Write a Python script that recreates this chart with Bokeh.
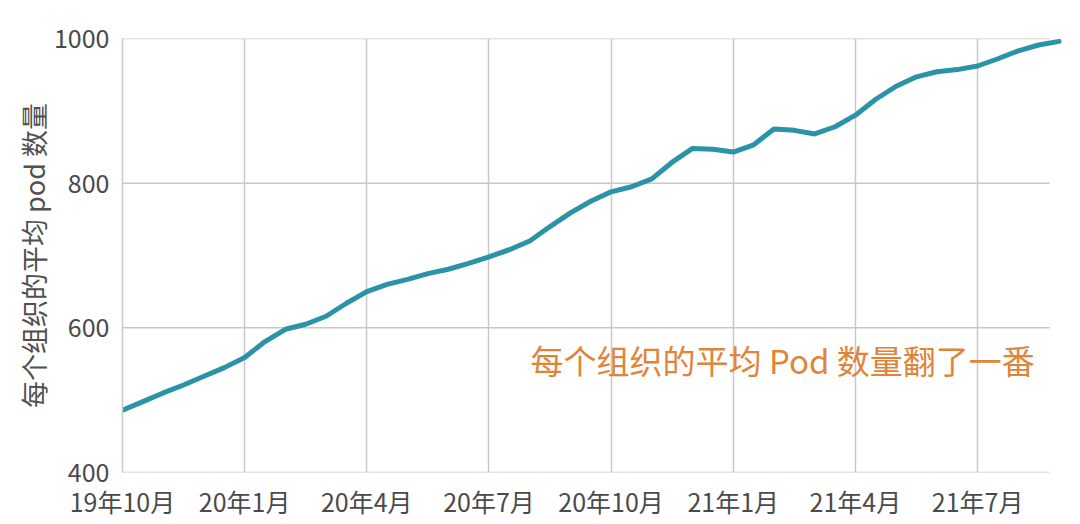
from bokeh.plotting import figure
from bokeh.models import Range1d, FixedTicker, Label
from bokeh.embed import file_html
from bokeh.resources import INLINE

# half-month steps since 2019-10
months = [i / 2 for i in range(47)]
pods = [486, 498, 510, 521, 533, 545, 559, 581, 598, 605,
        616, 634, 650, 660, 667, 675, 681, 689, 698, 708,
        720, 740, 759, 775, 788, 795, 806, 829, 848, 847,
        843, 853, 875, 873, 868, 878, 894, 916, 934, 947,
        954, 957, 962, 972, 983, 991, 996]

x_ticks = [0, 3, 6, 9, 12, 15, 18, 21]
x_labels = ["19年10月", "20年1月", "20年4月", "20年7月",
            "20年10月", "21年1月", "21年4月", "21年7月"]
y_ticks = [400, 600, 800, 1000]

note = "每个组织的平均 Pod 数量翻了一番"
font = "Noto Sans CJK SC"
grid_col = "#c8c8c8"
grid_end = 22.77

p = figure(width=1064, height=522, output_backend="svg", toolbar_location=None,
           x_range=Range1d(0, 23.11), y_range=Range1d(400, 1000),
           min_border_left=122, min_border_right=1, min_border_top=38, min_border_bottom=50)
p.outline_line_color = None
p.background_fill_color = "white"
p.border_fill_color = "white"

p.xaxis.ticker = FixedTicker(ticks=x_ticks)
p.xaxis.major_label_overrides = {t: l for t, l in zip(x_ticks, x_labels)}
p.yaxis.ticker = FixedTicker(ticks=y_ticks)

for ax in (p.xaxis[0], p.yaxis[0]):
    ax.major_tick_line_color = None
    ax.minor_tick_line_color = None
    ax.major_tick_out = 0
    ax.major_tick_in = 0
    ax.major_label_text_font = font
    ax.major_label_text_font_size = "25px"
    ax.major_label_text_color = "#4a4a4a"
p.xaxis.axis_line_color = None
p.xaxis.major_label_standoff = 10
p.yaxis.axis_line_color = grid_col
p.yaxis.axis_line_width = 1.5
p.yaxis.major_label_standoff = 13

p.yaxis.axis_label = "每个组织的平均 pod 数量"
p.yaxis.axis_label_text_font = font
p.yaxis.axis_label_text_font_size = "27px"
p.yaxis.axis_label_text_font_style = "normal"
p.yaxis.axis_label_text_color = "#505050"
p.yaxis.axis_label_standoff = -2

p.xgrid.ticker = FixedTicker(ticks=x_ticks)
p.xgrid.grid_line_color = grid_col
p.xgrid.grid_line_width = 1.5
p.ygrid.grid_line_color = None

# horizontal rules stop short of the right edge
p.segment(x0=[0] * len(y_ticks), x1=[grid_end] * len(y_ticks), y0=y_ticks, y1=y_ticks,
          line_color=grid_col, line_width=1.5)

p.line(months, pods, line_color="#2a93a8", line_width=5,
       line_cap="round", line_join="round")

p.add_layout(Label(x=10.02, y=556, text=note, text_font=font, text_font_size="33px",
                   text_color="#e0843a", text_baseline="middle", text_align="left"))

open("out.html", "w").write(file_html(p, INLINE))
